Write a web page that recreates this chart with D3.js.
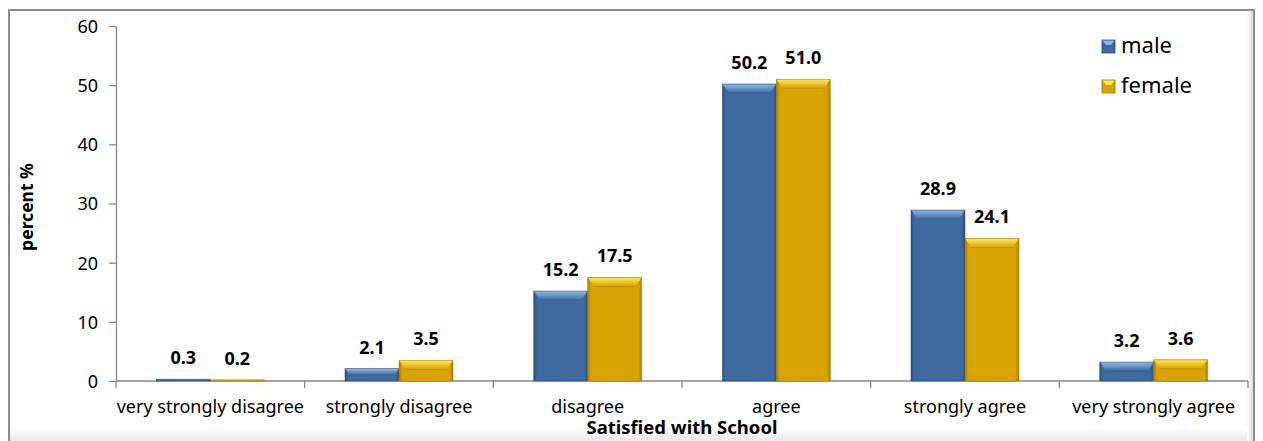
<!DOCTYPE html>
<html>
<head>
<meta charset="utf-8">
<script src="https://cdn.jsdelivr.net/npm/d3@7"></script>
<style>
  body { margin: 0; background: #fff; }
  svg { display: block; font-family: "Noto Sans", sans-serif; }
</style>
</head>
<body>
<div id="chartContainer"></div>
<script>
const categories = ["very strongly disagree", "strongly disagree", "disagree", "agree", "strongly agree", "very strongly agree"];
const seriesNames = ["male", "female"];
const maleValues = [0.3, 2.1, 15.2, 50.2, 28.9, 3.2];
const femaleValues = [0.2, 3.5, 17.5, 51.0, 24.1, 3.6];
const yTicks = [0, 10, 20, 30, 40, 50, 60];

const svgWidth = 1263;
const svgHeight = 441;
const margin = { top: 26, left: 116, right: 15, bottom: 60 };

const colors = {
  male: { body: "#3f6a9f", light: "#8db4e4", dark: "#2d5080", edge: "#2c4a74" },
  female: { body: "#d8a300", light: "#ffe654", dark: "#a97d00", edge: "#9c7a10" }
};

const svg = d3.select("#chartContainer")
  .append("svg")
  .attr("width", svgWidth)
  .attr("height", svgHeight);

const defs = svg.append("defs");

// gradients for the bevelled bars
seriesNames.forEach(s => {
  const g = defs.append("linearGradient").attr("id", "body-" + s)
    .attr("x1", 0).attr("x2", 1).attr("y1", 0).attr("y2", 0);
  g.append("stop").attr("offset", "0%").attr("stop-color", colors[s].dark);
  g.append("stop").attr("offset", "6%").attr("stop-color", colors[s].body);
  g.append("stop").attr("offset", "94%").attr("stop-color", colors[s].body);
  g.append("stop").attr("offset", "100%").attr("stop-color", colors[s].dark);

  const t = defs.append("linearGradient").attr("id", "top-" + s)
    .attr("x1", 0).attr("x2", 0).attr("y1", 0).attr("y2", 1);
  t.append("stop").attr("offset", "0%").attr("stop-color", colors[s].light);
  t.append("stop").attr("offset", "100%").attr("stop-color", colors[s].body);
});

const floor = defs.append("linearGradient").attr("id", "floor")
  .attr("x1", 0).attr("x2", 0).attr("y1", 0).attr("y2", 1);
floor.append("stop").attr("offset", "0%").attr("stop-color", "#ffffff");
floor.append("stop").attr("offset", "100%").attr("stop-color", "#e9e9e9");

const side = defs.append("linearGradient").attr("id", "side")
  .attr("x1", 0).attr("x2", 1).attr("y1", 0).attr("y2", 0);
side.append("stop").attr("offset", "0%").attr("stop-color", "#ffffff");
side.append("stop").attr("offset", "100%").attr("stop-color", "#dcdcdc");

// frame
svg.append("rect")
  .attr("x", 10).attr("y", 427).attr("width", 1243).attr("height", 14)
  .attr("fill", "url(#floor)");
svg.append("rect")
  .attr("x", 1247).attr("y", 11).attr("width", 6).attr("height", 430)
  .attr("fill", "url(#side)");
svg.append("path")
  .attr("d", "M9,441V10H1254V441")
  .attr("fill", "none")
  .attr("stroke", "#8c8c8c")
  .attr("stroke-width", 2);

const xScale = d3.scaleBand()
  .domain(categories)
  .range([margin.left, svgWidth - margin.right])
  .padding(0);

const xInner = d3.scaleBand()
  .domain(seriesNames)
  .range([0, xScale.bandwidth()])
  .paddingInner(0)
  .paddingOuter(0.747);

const yScale = d3.scaleLinear()
  .domain([0, 60])
  .range([381, margin.top]);

// y axis
const yAxis = d3.axisLeft(yScale).tickValues(yTicks).tickSize(7).tickSizeOuter(0).tickPadding(11);
const gy = svg.append("g")
  .attr("transform", `translate(${margin.left}, 0)`)
  .call(yAxis);
gy.select(".domain").attr("stroke", "#868686").attr("stroke-width", 1.3);
gy.selectAll(".tick line").attr("stroke", "#868686").attr("stroke-width", 1.3);
gy.selectAll(".tick text").attr("font-size", 18).attr("fill", "#000")
  .attr("font-family", "Noto Sans").attr("dy", "0.36em");

// x axis: ticks at band edges
const gx = svg.append("g");
gx.append("line")
  .attr("x1", xScale.range()[0]).attr("x2", xScale.range()[1])
  .attr("y1", yScale(0)).attr("y2", yScale(0))
  .attr("stroke", "#868686").attr("stroke-width", 1.3);
const edges = categories.map(c => xScale(c)).concat([xScale.range()[1]]);
gx.selectAll(".xtick")
  .data(edges)
  .enter()
  .append("line")
  .attr("class", "xtick")
  .attr("x1", d => d).attr("x2", d => d)
  .attr("y1", yScale(0)).attr("y2", yScale(0) + 7)
  .attr("stroke", "#868686").attr("stroke-width", 1.3);
gx.selectAll(".xlabel")
  .data(categories)
  .enter()
  .append("text")
  .attr("class", "xlabel")
  .attr("x", d => xScale(d) + xScale.bandwidth() / 2)
  .attr("y", 413)
  .attr("text-anchor", "middle")
  .attr("font-size", 18)
  .attr("fill", "#000")
  .text(d => d);

// axis titles
svg.append("text")
  .attr("x", (xScale.range()[0] + xScale.range()[1]) / 2)
  .attr("y", 434)
  .attr("text-anchor", "middle")
  .attr("font-size", 18.5)
  .attr("font-weight", "bold")
  .text("Satisfied with School");

svg.append("text")
  .attr("transform", "translate(33, 207) rotate(-90)")
  .attr("text-anchor", "middle")
  .attr("font-size", 17.5)
  .attr("font-weight", "bold")
  .text("percent %");

// bars
const rows = [];
categories.forEach((c, i) => {
  rows.push({ cat: c, series: "male", value: maleValues[i] });
  rows.push({ cat: c, series: "female", value: femaleValues[i] });
});

const barGroups = svg.selectAll(".bar")
  .data(rows)
  .enter()
  .append("g")
  .attr("class", "bar")
  .attr("transform", d => `translate(${xScale(d.cat) + xInner(d.series)}, 0)`);

barGroups.each(function(d) {
  const g = d3.select(this);
  const w = xInner.bandwidth();
  const top = yScale(d.value);
  const h = yScale(0) - top;
  const bev = Math.min(9, h * 0.5);
  const inset = Math.min(6, bev * 0.7);

  g.append("rect")
    .attr("x", 0).attr("y", top)
    .attr("width", w).attr("height", h)
    .attr("fill", "url(#body-" + d.series + ")")
    .attr("stroke", colors[d.series].edge)
    .attr("stroke-opacity", 0.6)
    .attr("stroke-width", 0.8);

  if (h > 2) {
    g.append("path")
      .attr("d", `M0.5,${top + 0.5}H${w - 0.5}L${w - inset},${top + bev}H${inset}Z`)
      .attr("fill", "url(#top-" + d.series + ")");
    g.append("line")
      .attr("x1", inset).attr("x2", w - inset)
      .attr("y1", top + bev).attr("y2", top + bev)
      .attr("stroke", colors[d.series].dark)
      .attr("stroke-opacity", 0.5)
      .attr("stroke-width", 0.8);
  }
});

// value labels
svg.selectAll(".value-label")
  .data(rows)
  .enter()
  .append("text")
  .attr("class", "value-label")
  .attr("x", d => xScale(d.cat) + xInner(d.series) + xInner.bandwidth() / 2)
  .attr("y", d => yScale(d.value) - 15)
  .attr("text-anchor", "middle")
  .attr("font-size", 18)
  .attr("font-weight", "bold")
  .attr("fill", "#000")
  .text(d => d3.format(".1f")(d.value));

// legend
const legend = svg.append("g")
  .attr("transform", "translate(1102, 0)");
seriesNames.forEach((s, i) => {
  const cy = 46 + i * 40;
  legend.append("rect")
    .attr("x", 0).attr("y", cy - 6)
    .attr("width", 13).attr("height", 13)
    .attr("fill", "url(#body-" + s + ")")
    .attr("stroke", colors[s].edge)
    .attr("stroke-width", 0.8);
  legend.append("path")
    .attr("d", `M0.5,${cy - 5.5}H12.5L9,${cy - 1}H4Z`)
    .attr("fill", colors[s].light);
  legend.append("text")
    .attr("x", 19)
    .attr("y", cy + 7)
    .attr("font-size", 22)
    .attr("fill", "#000")
    .text(s);
});
</script>
</body>
</html>
